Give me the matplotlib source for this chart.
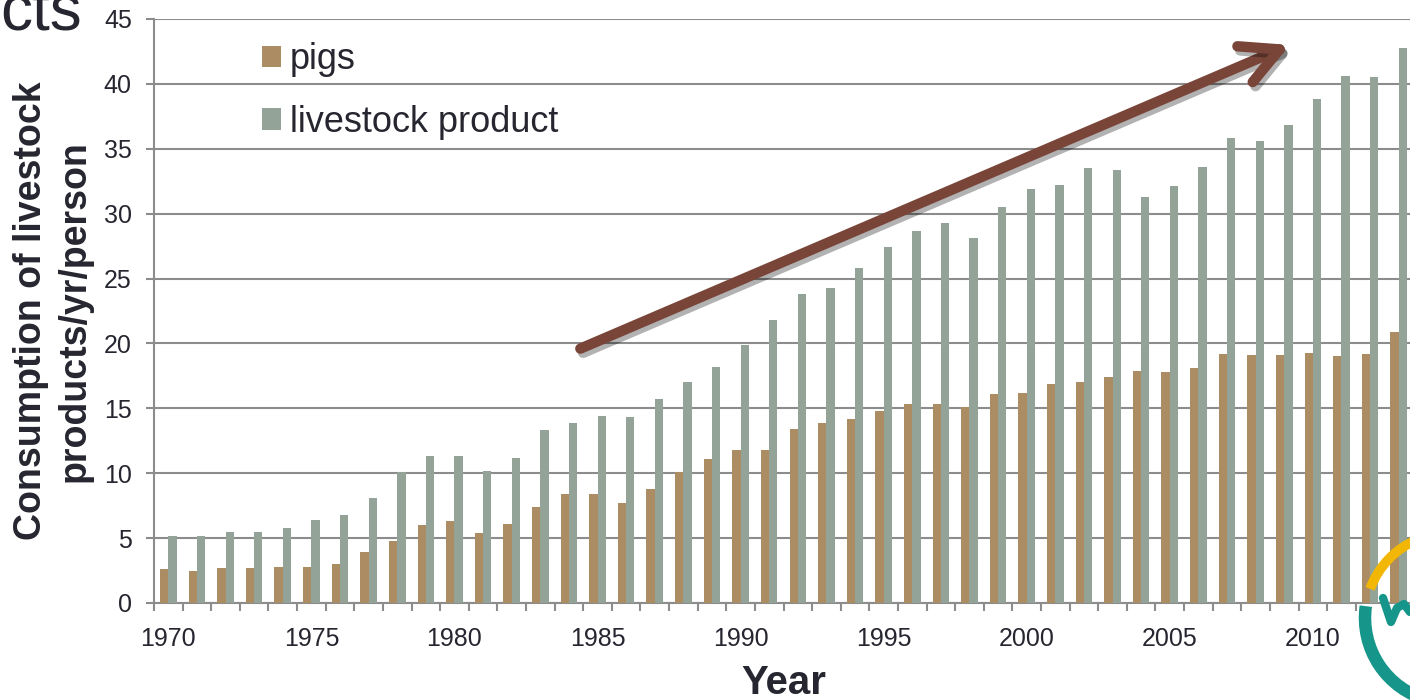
import matplotlib
matplotlib.use('Agg')
import matplotlib.pyplot as plt
import matplotlib.patheffects as pe
from matplotlib.patches import Arc
import numpy as np

plt.rcParams['font.family'] = ['Liberation Sans', 'DejaVu Sans']

years = list(range(1970, 2014))
pigs = [2.6, 2.5, 2.7, 2.7, 2.8, 2.8, 3.0, 3.9, 4.8, 6.0,
        6.3, 5.4, 6.1, 7.4, 8.4, 8.4, 7.7, 8.8, 10.1, 11.1,
        11.8, 11.8, 13.4, 13.9, 14.2, 14.8, 15.3, 15.3, 15.1, 16.1,
        16.2, 16.9, 17.0, 17.4, 17.9, 17.8, 18.1, 19.2, 19.1, 19.1,
        19.3, 19.0, 19.2, 20.9]
livestock = [5.2, 5.2, 5.5, 5.5, 5.8, 6.4, 6.8, 8.1, 10.1, 11.3,
             11.3, 10.2, 11.2, 13.3, 13.9, 14.4, 14.3, 15.7, 17.0, 18.2,
             19.9, 21.8, 23.8, 24.3, 25.8, 27.4, 28.7, 29.3, 28.1, 30.5,
             31.9, 32.2, 33.5, 33.4, 31.3, 32.1, 33.6, 35.8, 35.6, 36.8,
             38.8, 40.6, 40.5, 42.8]

txt = '#262630'
grid = '#8c8c8c'
c_pigs = '#ab8c63'
c_live = '#93a398'

fig = plt.figure(figsize=(14.1, 7), dpi=100)
ax = fig.add_axes([154 / 1410, 1 - 603 / 700, 1259 / 1410, 584 / 700])

x = np.arange(len(years))
w = 0.29
ax.bar(x - w / 2, pigs, w, color=c_pigs, label='pigs', zorder=3)
ax.bar(x + w / 2, livestock, w, color=c_live, label='livestock product', zorder=3)

ax.set_xlim(-0.5, len(years) - 0.5)
ax.set_ylim(0, 45)
ax.set_yticks(np.arange(0, 46, 5))
ax.yaxis.grid(True, color=grid, lw=1.5, zorder=0)
ax.set_axisbelow(True)

major = [i for i, y in enumerate(years) if y % 5 == 0]
ax.set_xticks(major)
ax.set_xticklabels([str(years[i]) for i in major])
ax.set_xticks(np.arange(-0.5, len(years), 1), minor=True)
ax.tick_params(axis='x', which='major', length=0, pad=17, labelsize=18, labelcolor=txt)
ax.tick_params(axis='x', which='minor', length=5.5, width=1.5, color=grid, direction='out')
ax.tick_params(axis='y', length=6, width=1.5, color=grid, pad=10, labelsize=18, labelcolor=txt)

for s in ['top', 'right']:
    ax.spines[s].set_visible(False)
for s in ['left', 'bottom']:
    ax.spines[s].set_color(grid)
    ax.spines[s].set_linewidth(1.5)

ax.set_ylabel('Consumption of livestock\nproducts/yr/person', fontsize=27,
              fontweight='bold', color=txt, linespacing=1.25)
ax.yaxis.set_label_coords(-0.049, 0.5)
ax.set_xlabel('Year', fontsize=29, fontweight='bold', color=txt)
ax.xaxis.set_label_coords(0.5, -0.105)

leg = ax.legend(loc='upper left', bbox_to_anchor=(0.0858, 0.96), frameon=False,
                fontsize=26, handlelength=0.53, handleheight=0.53,
                handletextpad=0.25, labelspacing=0.76, borderpad=0, borderaxespad=0)
for t in leg.get_texts():
    t.set_color(txt)

# trend arrow
ax.annotate('', xy=(39.2, 43.0), xytext=(14.4, 19.6), annotation_clip=False,
            arrowprops=dict(arrowstyle='->,head_length=2.7,head_width=1.4',
                            mutation_scale=10, lw=7.5, color='#7a4539',
                            shrinkA=0, shrinkB=0,
                            path_effects=[pe.SimpleLineShadow(offset=(2, -3), alpha=0.3),
                                          pe.Normal()]),
            zorder=5)

# truncated slide title
fig.text(82 / 1410, 1 - 30 / 700, 'cts', ha='right', va='baseline',
         fontsize=46, color=txt)

# partial logo in the corner
lax = fig.add_axes([0, 0, 1, 1], zorder=10)
lax.set_xlim(0, 1410)
lax.set_ylim(0, 700)
lax.axis('off')
lax.add_patch(Arc((1450, 82), 170, 170, theta1=172, theta2=255, lw=9, color='#16968a'))
lax.add_patch(Arc((1450, 82), 170, 170, theta1=112, theta2=160, lw=7, color='#f2b705'))
lax.plot([1383, 1391, 1397, 1404, 1410], [102, 78, 92, 96, 88], color='#16968a',
         lw=6, solid_capstyle='round')

fig.savefig('out.png', dpi=100)
